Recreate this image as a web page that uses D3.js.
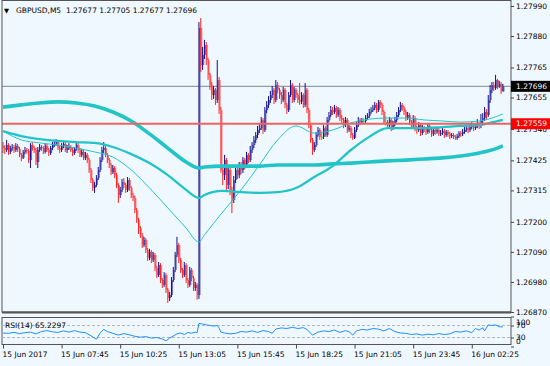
<!DOCTYPE html>
<html><head><meta charset="utf-8">
<script src="https://cdn.jsdelivr.net/npm/d3@7"></script>
<style>
html,body{margin:0;padding:0;background:#f0f8ff;}
svg{display:block;}
text{font-family:"DejaVu Sans",sans-serif;font-size:7.5px;fill:#000;white-space:pre;}
</style></head><body>
<svg id="c" width="550" height="366"></svg>
<script>
// GBPUSD M5, 15 Jun 2017 05:05 -> 16 Jun 2017 03:50 (one entry per 5-minute bar)
const opens=[
1.27478,1.27470,1.27463,1.27481,1.27456,1.27470,1.27474,1.27463,1.27478,1.27467,
1.27445,1.27434,1.27456,1.27463,1.27460,1.27426,1.27481,1.27470,1.27463,1.27419,
1.27463,1.27474,1.27470,1.27456,1.27478,1.27463,1.27452,1.27470,1.27481,1.27485,
1.27492,1.27470,1.27463,1.27478,1.27485,1.27463,1.27470,1.27474,1.27463,1.27452,
1.27467,1.27481,1.27463,1.27445,1.27456,1.27434,1.27445,1.27426,1.27390,1.27353,
1.27324,1.27335,1.27360,1.27390,1.27426,1.27463,1.27470,1.27445,1.27426,1.27408,
1.27382,1.27397,1.27371,1.27335,1.27298,1.27317,1.27346,1.27335,1.27317,1.27353,
1.27324,1.27298,1.27287,1.27243,1.27207,1.27177,1.27152,1.27115,1.27134,1.27097,
1.27068,1.27090,1.27060,1.27079,1.27031,1.27005,1.27042,1.26987,1.26969,1.27005,
1.26951,1.26921,1.26932,1.26987,1.27024,1.27079,1.27115,1.27060,1.27024,1.27005,
1.27042,1.26987,1.26969,1.27024,1.26994,1.26958,1.26969,1.26932,1.27910,1.27774,
1.27811,1.27847,1.27792,1.27738,1.27701,1.27664,1.27683,1.27646,1.27719,1.27609,
1.27390,1.27371,1.27426,1.27335,1.27390,1.27317,1.27280,1.27353,1.27390,1.27371,
1.27408,1.27390,1.27426,1.27408,1.27445,1.27426,1.27463,1.27481,1.27500,1.27518,
1.27536,1.27543,1.27573,1.27536,1.27609,1.27628,1.27646,1.27664,1.27683,1.27646,
1.27701,1.27683,1.27664,1.27646,1.27683,1.27628,1.27609,1.27664,1.27701,1.27646,
1.27683,1.27664,1.27646,1.27640,1.27664,1.27628,1.27683,1.27609,1.27554,1.27500,
1.27463,1.27481,1.27518,1.27536,1.27511,1.27511,1.27543,1.27518,1.27573,1.27591,
1.27609,1.27602,1.27617,1.27591,1.27609,1.27580,1.27573,1.27554,1.27573,1.27536,
1.27543,1.27518,1.27507,1.27536,1.27554,1.27573,1.27565,1.27569,1.27569,1.27580,
1.27587,1.27602,1.27609,1.27617,1.27628,1.27609,1.27639,1.27628,1.27602,1.27565,
1.27565,1.27554,1.27573,1.27543,1.27558,1.27573,1.27591,1.27609,1.27628,1.27617,
1.27602,1.27580,1.27591,1.27565,1.27554,1.27580,1.27543,1.27536,1.27554,1.27525,
1.27543,1.27540,1.27529,1.27551,1.27536,1.27522,1.27536,1.27529,1.27536,1.27522,
1.27525,1.27532,1.27518,1.27529,1.27522,1.27514,1.27518,1.27511,1.27507,1.27514,
1.27525,1.27522,1.27529,1.27536,1.27543,1.27536,1.27547,1.27554,1.27543,1.27551,
1.27558,1.27551,1.27573,1.27580,1.27602,1.27591,1.27646,1.27683,1.27701,1.27690,
1.27719,1.27697,1.27705,1.27677];
const highs=[
1.27492,1.27481,1.27500,1.27488,1.27478,1.27485,1.27481,1.27488,1.27485,1.27474,
1.27452,1.27463,1.27474,1.27470,1.27467,1.27488,1.27492,1.27478,1.27470,1.27474,
1.27485,1.27481,1.27478,1.27488,1.27485,1.27470,1.27478,1.27492,1.27496,1.27503,
1.27500,1.27478,1.27488,1.27496,1.27492,1.27481,1.27488,1.27481,1.27470,1.27474,
1.27492,1.27488,1.27470,1.27467,1.27463,1.27456,1.27452,1.27434,1.27397,1.27360,
1.27346,1.27371,1.27401,1.27437,1.27474,1.27492,1.27478,1.27452,1.27434,1.27415,
1.27408,1.27404,1.27379,1.27342,1.27328,1.27357,1.27360,1.27342,1.27364,1.27360,
1.27331,1.27306,1.27295,1.27251,1.27214,1.27185,1.27159,1.27145,1.27141,1.27104,
1.27101,1.27097,1.27090,1.27086,1.27038,1.27053,1.27049,1.26994,1.27016,1.27013,
1.26958,1.26943,1.26998,1.27035,1.27090,1.27145,1.27123,1.27068,1.27031,1.27053,
1.27049,1.26994,1.27035,1.27031,1.27002,1.26980,1.26976,1.27931,1.27946,1.27840,
1.27866,1.27858,1.27800,1.27745,1.27712,1.27697,1.27690,1.27792,1.27730,1.27620,
1.27408,1.27445,1.27434,1.27408,1.27397,1.27328,1.27368,1.27404,1.27401,1.27419,
1.27419,1.27437,1.27434,1.27456,1.27452,1.27478,1.27492,1.27514,1.27529,1.27551,
1.27558,1.27584,1.27580,1.27620,1.27642,1.27660,1.27679,1.27697,1.27690,1.27719,
1.27712,1.27690,1.27675,1.27694,1.27690,1.27635,1.27675,1.27719,1.27708,1.27694,
1.27690,1.27671,1.27708,1.27675,1.27671,1.27708,1.27690,1.27617,1.27562,1.27507,
1.27492,1.27529,1.27547,1.27543,1.27525,1.27554,1.27551,1.27584,1.27602,1.27624,
1.27620,1.27628,1.27624,1.27620,1.27617,1.27591,1.27580,1.27584,1.27580,1.27554,
1.27551,1.27525,1.27547,1.27565,1.27584,1.27580,1.27580,1.27580,1.27591,1.27598,
1.27613,1.27620,1.27628,1.27639,1.27635,1.27646,1.27646,1.27635,1.27609,1.27587,
1.27573,1.27584,1.27580,1.27569,1.27584,1.27602,1.27620,1.27639,1.27635,1.27624,
1.27609,1.27602,1.27598,1.27573,1.27591,1.27587,1.27551,1.27565,1.27562,1.27554,
1.27551,1.27547,1.27562,1.27558,1.27543,1.27547,1.27543,1.27547,1.27543,1.27536,
1.27543,1.27540,1.27536,1.27536,1.27529,1.27525,1.27525,1.27518,1.27522,1.27532,
1.27532,1.27540,1.27547,1.27554,1.27551,1.27558,1.27565,1.27562,1.27562,1.27576,
1.27565,1.27595,1.27598,1.27620,1.27613,1.27664,1.27701,1.27712,1.27712,1.27738,
1.27723,1.27716,1.27712,1.27705];
const lows=[
1.27452,1.27448,1.27456,1.27445,1.27448,1.27460,1.27452,1.27456,1.27456,1.27437,
1.27422,1.27430,1.27448,1.27450,1.27415,1.27397,1.27460,1.27452,1.27408,1.27397,
1.27456,1.27460,1.27448,1.27450,1.27456,1.27441,1.27445,1.27463,1.27474,1.27478,
1.27463,1.27452,1.27456,1.27470,1.27456,1.27452,1.27463,1.27456,1.27441,1.27445,
1.27460,1.27452,1.27437,1.27437,1.27426,1.27426,1.27415,1.27379,1.27342,1.27313,
1.27306,1.27328,1.27353,1.27382,1.27419,1.27452,1.27437,1.27415,1.27397,1.27371,
1.27375,1.27360,1.27324,1.27269,1.27287,1.27309,1.27324,1.27306,1.27309,1.27313,
1.27287,1.27276,1.27232,1.27196,1.27155,1.27141,1.27104,1.27108,1.27086,1.27057,
1.27060,1.27049,1.27053,1.27020,1.26994,1.26998,1.26976,1.26958,1.26962,1.26940,
1.26903,1.26910,1.26925,1.26980,1.27016,1.27071,1.27049,1.27013,1.26994,1.26998,
1.26976,1.26958,1.26962,1.26983,1.26947,1.26947,1.26915,1.26918,1.27748,1.27756,
1.27796,1.27774,1.27720,1.27683,1.27646,1.27650,1.27628,1.27635,1.27595,1.27380,
1.27335,1.27353,1.27317,1.27320,1.27298,1.27232,1.27269,1.27342,1.27357,1.27360,
1.27375,1.27379,1.27393,1.27397,1.27415,1.27419,1.27452,1.27470,1.27489,1.27507,
1.27525,1.27536,1.27522,1.27529,1.27598,1.27617,1.27635,1.27653,1.27631,1.27638,
1.27671,1.27650,1.27631,1.27638,1.27617,1.27595,1.27602,1.27657,1.27635,1.27638,
1.27653,1.27635,1.27628,1.27631,1.27617,1.27620,1.27598,1.27543,1.27489,1.27445,
1.27456,1.27474,1.27511,1.27500,1.27500,1.27503,1.27511,1.27511,1.27565,1.27584,
1.27591,1.27595,1.27580,1.27584,1.27569,1.27562,1.27543,1.27547,1.27525,1.27529,
1.27507,1.27500,1.27503,1.27529,1.27547,1.27554,1.27558,1.27562,1.27562,1.27573,
1.27580,1.27595,1.27602,1.27609,1.27598,1.27602,1.27617,1.27591,1.27558,1.27551,
1.27543,1.27547,1.27532,1.27536,1.27551,1.27565,1.27584,1.27602,1.27606,1.27591,
1.27569,1.27573,1.27554,1.27540,1.27547,1.27532,1.27522,1.27529,1.27514,1.27518,
1.27529,1.27518,1.27522,1.27525,1.27511,1.27514,1.27518,1.27522,1.27514,1.27514,
1.27518,1.27507,1.27511,1.27511,1.27503,1.27507,1.27503,1.27500,1.27500,1.27507,
1.27511,1.27514,1.27522,1.27529,1.27525,1.27529,1.27540,1.27532,1.27536,1.27543,
1.27540,1.27543,1.27562,1.27569,1.27573,1.27584,1.27635,1.27671,1.27679,1.27683,
1.27686,1.27690,1.27668,1.27677];
const closes=[
1.27470,1.27463,1.27481,1.27456,1.27470,1.27474,1.27463,1.27478,1.27467,1.27445,
1.27434,1.27456,1.27463,1.27460,1.27426,1.27481,1.27470,1.27463,1.27419,1.27463,
1.27474,1.27470,1.27456,1.27478,1.27463,1.27452,1.27470,1.27481,1.27485,1.27492,
1.27470,1.27463,1.27478,1.27485,1.27463,1.27470,1.27474,1.27463,1.27452,1.27467,
1.27481,1.27463,1.27445,1.27456,1.27434,1.27445,1.27426,1.27390,1.27353,1.27324,
1.27335,1.27360,1.27390,1.27426,1.27463,1.27470,1.27445,1.27426,1.27408,1.27382,
1.27397,1.27371,1.27335,1.27298,1.27317,1.27346,1.27335,1.27317,1.27353,1.27324,
1.27298,1.27287,1.27243,1.27207,1.27177,1.27152,1.27115,1.27134,1.27097,1.27068,
1.27090,1.27060,1.27079,1.27031,1.27005,1.27042,1.26987,1.26969,1.27005,1.26951,
1.26921,1.26932,1.26987,1.27024,1.27079,1.27115,1.27060,1.27024,1.27005,1.27042,
1.26987,1.26969,1.27024,1.26994,1.26958,1.26969,1.26932,1.27910,1.27774,1.27811,
1.27847,1.27792,1.27738,1.27701,1.27664,1.27683,1.27646,1.27719,1.27609,1.27390,
1.27371,1.27426,1.27335,1.27390,1.27317,1.27280,1.27353,1.27390,1.27371,1.27408,
1.27390,1.27426,1.27408,1.27445,1.27426,1.27463,1.27481,1.27500,1.27518,1.27536,
1.27543,1.27573,1.27536,1.27609,1.27628,1.27646,1.27664,1.27683,1.27646,1.27701,
1.27683,1.27664,1.27646,1.27683,1.27628,1.27609,1.27664,1.27701,1.27646,1.27683,
1.27664,1.27646,1.27640,1.27664,1.27628,1.27683,1.27609,1.27554,1.27500,1.27463,
1.27481,1.27518,1.27536,1.27511,1.27511,1.27543,1.27518,1.27573,1.27591,1.27609,
1.27602,1.27617,1.27591,1.27609,1.27580,1.27573,1.27554,1.27573,1.27536,1.27543,
1.27518,1.27507,1.27536,1.27554,1.27573,1.27565,1.27569,1.27569,1.27580,1.27587,
1.27602,1.27609,1.27617,1.27628,1.27609,1.27639,1.27628,1.27602,1.27565,1.27565,
1.27554,1.27573,1.27543,1.27558,1.27573,1.27591,1.27609,1.27628,1.27617,1.27602,
1.27580,1.27591,1.27565,1.27554,1.27580,1.27543,1.27536,1.27554,1.27525,1.27543,
1.27540,1.27529,1.27551,1.27536,1.27522,1.27536,1.27529,1.27536,1.27522,1.27525,
1.27532,1.27518,1.27529,1.27522,1.27514,1.27518,1.27511,1.27507,1.27514,1.27525,
1.27522,1.27529,1.27536,1.27543,1.27536,1.27547,1.27554,1.27543,1.27551,1.27558,
1.27551,1.27573,1.27580,1.27602,1.27591,1.27646,1.27683,1.27701,1.27690,1.27719,
1.27697,1.27705,1.27677,1.27696];

// moving averages, read at these bar indices
const maIdx=[0,10,20,30,40,50,60,70,80,90,100,107,110,120,130,140,150,160,170,180,190,200,210,220,230,240,250,260,270,273];
const maSlow=[1.27620,1.27628,1.27635,1.27639,1.27635,1.27624,1.27602,1.27569,1.27522,1.27470,1.27419,1.27397,1.27401,1.27404,1.27404,1.27404,1.27408,1.27408,1.27408,1.27412,1.27415,1.27419,1.27423,1.27426,1.27430,1.27434,1.27441,1.27452,1.27470,1.27478];
const maMid=[1.27532,1.27514,1.27503,1.27496,1.27492,1.27489,1.27474,1.27448,1.27415,1.27371,1.27317,1.27287,1.27298,1.27313,1.27309,1.27306,1.27309,1.27324,1.27364,1.27404,1.27463,1.27511,1.27543,1.27543,1.27543,1.27547,1.27551,1.27554,1.27569,1.27573];
const maFast=[1.27532,1.27500,1.27489,1.27481,1.27470,1.27456,1.27437,1.27390,1.27324,1.27251,1.27177,1.27126,1.27152,1.27236,1.27317,1.27408,1.27500,1.27551,1.27525,1.27536,1.27562,1.27576,1.27580,1.27580,1.27573,1.27569,1.27565,1.27569,1.27587,1.27595];

// RSI(14), read at these bar indices
const rsiIdx=[0,3,6,9,12,15,18,21,24,27,30,33,36,39,42,45,48,51,53,55,57,60,63,66,69,72,75,78,81,84,87,89,91,93,95,97,99,101,103,105,106,107,109,111,113,115,117,118,119,121,124,127,130,133,136,139,142,145,147,149,152,155,158,161,164,166,169,172,175,178,181,184,187,189,191,193,196,199,202,205,208,211,214,217,220,223,226,229,232,235,238,241,244,247,250,253,256,258,260,262,263,265,267,269,271,273];
const rsiVal=[45,44,47,43,46,48,42,50,53,49,47,52,48,53,48,46,36,24,45,57,50,44,38,43,39,34,31,33,28,30,25,19,28,35,42,45,40,47,44,48,46,77,75,72,70,68,70,62,48,45,42,44,50,48,52,47,53,50,44,58,62,60,64,60,63,57,38,48,52,50,55,47,53,49,38,52,57,55,60,58,52,60,50,45,44,40,42,38,41,39,43,40,42,50,48,52,46,60,55,62,52,72,70,72,66,65.2297];

const priceTicks=[1.27990,1.27880,1.27765,1.27655,1.27540,1.27425,1.27315,1.27200,1.27090,1.26980,1.26870];
const timeTickIdx=[0,32,64,96,128,160,192,224,256];
const timeLabels=["15 Jun 2017","15 Jun 07:45","15 Jun 10:25","15 Jun 13:05","15 Jun 15:45","15 Jun 18:25","15 Jun 21:05","15 Jun 23:45","16 Jun 02:25"];
const bidPrice=1.27696, levelPrice=1.27559;
const rsiLevels=[70,30], rsiTicks=[100,70,30,0];
const symbol="GBPUSD,M5";

const svg=d3.select('#c');
const f5=d3.format('.5f');
const n=closes.length;
const x=d3.scaleLinear().domain([0,n-1]).range([3,502.9]);
const y=d3.scaleLinear().domain([1.26870,1.27990]).range([312,6]);
const yr=d3.scaleLinear().domain([0,100]).range([346.5,316.5]);

const PL=2, PR=511, MT=0.5, MB=312, RT=317.5, RB=344.5;
const defs=svg.append('defs');
defs.append('clipPath').attr('id','cm').append('rect').attr('x',PL).attr('y',MT).attr('width',PR-PL).attr('height',MB-MT);
defs.append('clipPath').attr('id','cr').append('rect').attr('x',PL).attr('y',RT).attr('width',PR-PL).attr('height',RB-RT);

svg.append('rect').attr('width',550).attr('height',366).attr('fill','#f0f8ff');

const gm=svg.append('g').attr('clip-path','url(#cm)');
// bid line
gm.append('line').attr('x1',PL).attr('x2',PR).attr('y1',y(bidPrice)).attr('y2',y(bidPrice)).attr('stroke','#7a8796').attr('stroke-width',1);

// candles
const up='#101090', upBody='#7070c4', dn='#ff2020', dnBody='#f28080', dj='#30d030';
const cg=gm.selectAll('g.k').data(d3.range(n)).join('g');
cg.append('rect')
  .attr('x',i=>x(i)+0.1).attr('width',1.5)
  .attr('y',i=>y(Math.max(opens[i],closes[i])))
  .attr('height',i=>Math.max(0.8,Math.abs(y(opens[i])-y(closes[i]))))
  .attr('fill',i=>closes[i]>opens[i]?upBody:(closes[i]<opens[i]?dnBody:dj));
cg.append('line')
  .attr('x1',i=>x(i)).attr('x2',i=>x(i))
  .attr('y1',i=>y(highs[i])).attr('y2',i=>y(lows[i]))
  .attr('stroke',i=>closes[i]>opens[i]?up:(closes[i]<opens[i]?dn:dj)).attr('stroke-width',1);

// moving averages
const maLine=arr=>d3.line().x((d,k)=>x(maIdx[k])).y(d=>y(d)).curve(d3.curveMonotoneX)(arr);
gm.append('path').attr('d',maLine(maSlow)).attr('fill','none').attr('stroke','#22c4c8').attr('stroke-width',3.6).attr('stroke-linejoin','round');
gm.append('path').attr('d',maLine(maMid)).attr('fill','none').attr('stroke','#22c4c8').attr('stroke-width',2.3);
gm.append('path').attr('d',maLine(maFast)).attr('fill','none').attr('stroke','#22c4c8').attr('stroke-width',1);

// horizontal level
gm.append('line').attr('x1',PL).attr('x2',PR).attr('y1',y(levelPrice)).attr('y2',y(levelPrice)).attr('stroke','#f06262').attr('stroke-width',2);

// frames
svg.append('rect').attr('x',PL).attr('y',MT).attr('width',PR-PL).attr('height',MB-MT).attr('fill','none').attr('stroke','#555').attr('stroke-width',1);
svg.append('line').attr('x1',PL).attr('x2',PR).attr('y1',MB+0.5).attr('y2',MB+0.5).attr('stroke','#555').attr('stroke-width',2);
svg.append('rect').attr('x',PL).attr('y',RT).attr('width',PR-PL).attr('height',RB-RT).attr('fill','none').attr('stroke','#555').attr('stroke-width',1);

// title
const t=svg.append('text').attr('x',4).attr('y',12.5);
t.append('tspan').style('font-size','6.5px').text('▼');
t.append('tspan').attr('x',16).text(symbol+'  '+[opens[n-1],highs[n-1],lows[n-1],closes[n-1]].map(f5).join(' '));

// price axis
const ya=svg.append('g').attr('transform',`translate(${PR},0)`)
  .call(d3.axisRight(y).tickValues(priceTicks).tickSize(3).tickPadding(2).tickFormat(f5));
ya.select('.domain').remove();
ya.selectAll('line').attr('stroke','#444');
ya.selectAll('text').attr('font-family',null).attr('font-size',null).style('font-size','7.5px');

// price boxes
[[bidPrice,'#000'],[levelPrice,'#ff0000']].forEach(([p,c])=>{
  svg.append('rect').attr('x',PR).attr('y',y(p)-5.5).attr('width',550-PR).attr('height',11).attr('fill',c);
  svg.append('text').attr('x',516).attr('y',y(p)).attr('dy','0.36em').style('fill','#fff').text(f5(p));
});

// RSI panel
const gr=svg.append('g').attr('clip-path','url(#cr)');
gr.selectAll('line.lv').data(rsiLevels).join('line')
  .attr('x1',PL).attr('x2',PR).attr('y1',d=>yr(d)).attr('y2',d=>yr(d))
  .attr('stroke','#b8b8b8').attr('stroke-dasharray','3,2');
gr.append('path').attr('d',d3.line().x((d,k)=>x(rsiIdx[k])).y(d=>yr(d))(rsiVal))
  .attr('fill','none').attr('stroke','#1e90ff').attr('stroke-width',1);
svg.append('text').attr('x',5).attr('y',327.5).text('RSI(14) '+d3.format('.4f')(rsiVal[rsiVal.length-1]));

const ra=svg.append('g').attr('transform',`translate(${PR},0)`)
  .call(d3.axisRight(yr).tickValues(rsiTicks).tickSize(3).tickPadding(2).tickFormat(d3.format('d')));
ra.select('.domain').remove();
ra.selectAll('line').attr('stroke','#444');
ra.selectAll('text').attr('font-family',null).attr('font-size',null).style('font-size','7.5px')
  .attr('y',d=>Math.max(322,Math.min(341,yr(d)))-yr(d));

// time axis
const xa=svg.append('g').attr('transform',`translate(0,${RB})`)
  .call(d3.axisBottom(x).tickValues(timeTickIdx).tickSize(4).tickFormat((d,i)=>timeLabels[i]));
xa.select('.domain').remove();
xa.selectAll('line').attr('stroke','#444');
xa.selectAll('text').attr('font-family',null).attr('font-size',null).style('font-size','7.5px')
  .attr('text-anchor','start').attr('x',-1).attr('y',12.5).attr('dy',null);
</script></body></html>
